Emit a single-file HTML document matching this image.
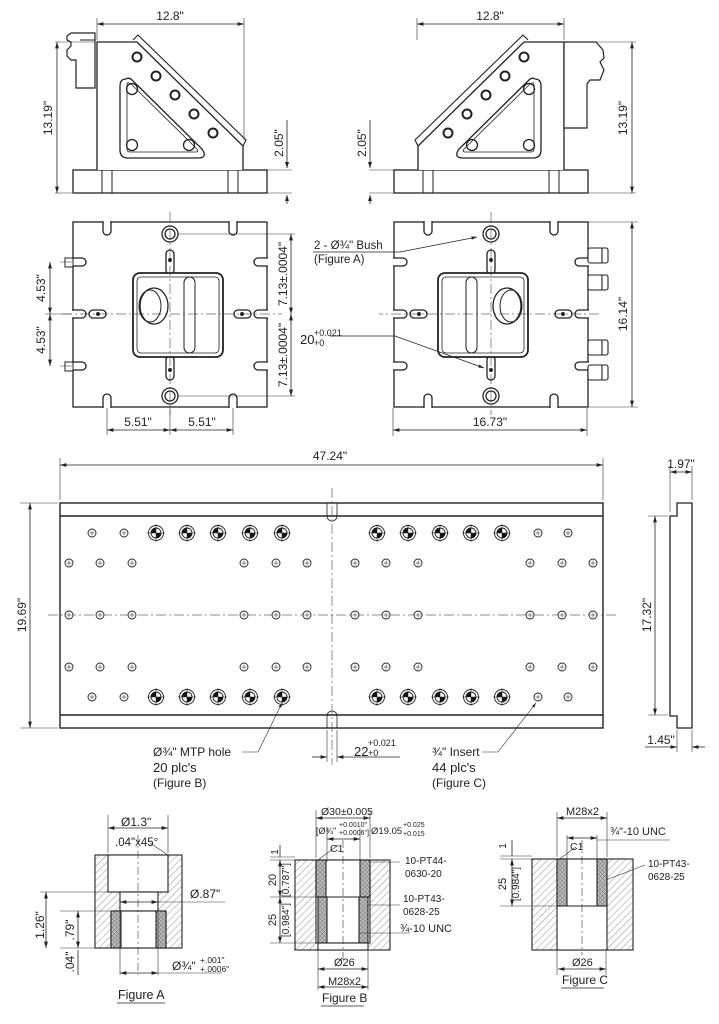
<!DOCTYPE html>
<html><head><meta charset="utf-8"><style>
html,body{margin:0;padding:0;background:#fff;}
svg{display:block;font-family:"Liberation Sans",sans-serif;}
</style></head><body>
<svg width="719" height="1024" viewBox="0 0 719 1024" xmlns="http://www.w3.org/2000/svg">
<defs>
<marker id="a" viewBox="0 0 10 6" refX="10" refY="3" markerWidth="8" markerHeight="5" orient="auto-start-reverse"><path d="M0,0 L10,3 L0,6z" fill="#222"/></marker>
<pattern id="h" width="5" height="5" patternUnits="userSpaceOnUse" patternTransform="rotate(45)"><line x1="0" y1="0" x2="0" y2="5" stroke="#666" stroke-width="0.7"/></pattern>
<pattern id="x" width="3" height="3" patternUnits="userSpaceOnUse" patternTransform="rotate(45)"><rect width="3" height="3" fill="#bbb"/><line x1="0" y1="0" x2="0" y2="3" stroke="#555" stroke-width="0.6"/><line x1="0" y1="0" x2="3" y2="0" stroke="#555" stroke-width="0.6"/></pattern>
<g id="sh"><circle r="4" fill="#fff" stroke="#222" stroke-width="0.9"/><path d="M-2.5,0H2.5M0,-2.5V2.5" stroke="#222" stroke-width="0.5"/></g>
<g id="mtp"><circle r="7.5" fill="#fff" stroke="#222" stroke-width="0.9"/><circle r="5" fill="#fff" stroke="#222" stroke-width="0.9"/><path d="M0,0 L5,0 A5,5 0 0 1 0,5z M0,0 L-5,0 A5,5 0 0 1 0,-5z" fill="#111"/><path d="M-9,0H9M0,-9V9" stroke="#222" stroke-width="0.5"/></g>
<g id="side" fill="none" stroke="#222" stroke-width="1.3">
<rect x="73" y="170" width="194" height="23" fill="#fff"/>
<path d="M102,170V193M112,170V193M228,170V193M238,170V193" stroke-width="1"/>
<path d="M97,170V42H137L243,146V170" fill="#fff"/>
<path d="M133,40L138,35L246,140L243,146" stroke-width="1.1"/>
<path d="M126,79 Q120,79 120,86 V150 Q120,158 128,158 H198 Q208,158 202,149 L132,80 Q129,77 126,79Z" stroke-width="1.3"/>
<path d="M127,85 V149 Q127,152 130,152 H196 Q199,152 197,149 L131,84 Q127,81 127,85Z" stroke-width="0.8"/>
<circle cx="132" cy="89" r="5.5"/><circle cx="132" cy="145" r="5.5"/><circle cx="189" cy="145" r="5.5"/>
<circle cx="137" cy="57" r="4.5" stroke-width="2"/><circle cx="156" cy="76" r="4.5" stroke-width="2"/><circle cx="175" cy="95" r="4.5" stroke-width="2"/><circle cx="194" cy="114" r="4.5" stroke-width="2"/><circle cx="213" cy="133" r="4.5" stroke-width="2"/>
</g>
<g id="plan" fill="none" stroke="#222" stroke-width="1.3">
<rect x="73" y="222" width="194" height="185" fill="#fff"/>
<g fill="#fff">
<path d="M103,221V231A4,4 0 0 0 111,231V221"/><path d="M229,221V231A4,4 0 0 0 237,231V221"/>
<path d="M103,408V398A4,4 0 0 1 111,398V408"/><path d="M229,408V398A4,4 0 0 1 237,398V408"/>
<path d="M72,258H82A4,4 0 0 1 82,266H72"/><path d="M72,310H82A4,4 0 0 1 82,318H72"/><path d="M72,362H82A4,4 0 0 1 82,370H72"/>
<path d="M268,258H258A4,4 0 0 0 258,266H268"/><path d="M268,310H258A4,4 0 0 0 258,318H268"/><path d="M268,362H258A4,4 0 0 0 258,370H268"/>
</g>
<g stroke="#fff" stroke-width="2"><path d="M104,222H110M230,222H236M104,407H110M230,407H236M73,259V265M73,311V317M73,363V369M267,259V265M267,311V317M267,363V369"/></g>
<rect x="166" y="250" width="8" height="24" rx="4" fill="#fff"/><rect x="166" y="356" width="8" height="24" rx="4" fill="#fff"/>
<rect x="89" y="310" width="17" height="8" rx="4" fill="#fff"/><rect x="234" y="310" width="17" height="8" rx="4" fill="#fff"/>
<circle cx="170" cy="260" r="1.3" fill="#222"/><circle cx="170" cy="370" r="1.3" fill="#222"/><circle cx="98" cy="314" r="1.3" fill="#222"/><circle cx="242" cy="314" r="1.3" fill="#222"/>
<rect x="133" y="273" width="90" height="84" rx="7" fill="#fff" stroke-width="1.8"/>
<rect x="137" y="277" width="82" height="76" rx="4" stroke-width="0.8"/>
<rect x="184" y="277" width="11" height="76" rx="5.5" stroke-width="1"/>
<ellipse cx="154" cy="306" rx="14" ry="18"/><ellipse cx="150" cy="306" rx="11" ry="16" stroke-width="1"/>
<circle cx="170" cy="234" r="8"/><circle cx="170" cy="234" r="5"/><circle cx="170" cy="396" r="8"/><circle cx="170" cy="396" r="5"/>
<path d="M170,212V415M62,314H282" stroke-width="0.5" stroke-dasharray="10,3,2,3"/>
</g>
</defs>

<use href="#side"/>
<path d="M76,33H95V88H76V60H71L67,56V50L71,46V42L67,40V36L71,33Z" fill="#fff" stroke="#222" stroke-width="1.2"/>
<path d="M80,40H95" stroke="#222" stroke-width="1"/>
<use href="#side" transform="translate(661,0) scale(-1,1)"/>
<path d="M564,42H596L603,50L604,58L600,62L604,70L600,80H590L587,84V128H564Z" fill="#fff" stroke="#222" stroke-width="1.2"/>

<g stroke="#333" stroke-width="0.6" fill="none">
<path d="M97,40V18M244,140V18M55,42H95M55,193H72M267,170H292M267,193H292"/>
<path d="M417,40V18M564,40V18M566,42H636M589,193H636M369,170H394M369,193H394"/>
</g>
<g stroke="#222" stroke-width="0.8" marker-start="url(#a)" marker-end="url(#a)">
<line x1="97" y1="24" x2="244" y2="24"/><line x1="57" y1="42" x2="57" y2="193"/>
<line x1="417" y1="24" x2="564" y2="24"/><line x1="632" y1="42" x2="632" y2="193"/>
</g>
<g stroke="#222" stroke-width="0.8"><path d="M287,120V168M287,195V204M370,120V168M370,195V204"/></g>
<path d="M287,168l-2,-6h4z M287,195l-2,6h4z M370,168l-2,-6h4z M370,195l-2,6h4z" fill="#222"/>
<g font-size="12" fill="#222" text-anchor="middle">
<text x="170" y="20">12.8"</text><text x="490" y="20">12.8"</text>
<text transform="translate(52,118) rotate(-90)">13.19"</text>
<text transform="translate(627,118) rotate(-90)">13.19"</text>
<text transform="translate(283,143) rotate(-90)">2.05"</text>
<text transform="translate(366,143) rotate(-90)">2.05"</text>
</g>

<use href="#plan"/>
<g fill="#fff" stroke="#222" stroke-width="1"><rect x="65" y="258" width="8" height="9"/><rect x="65" y="362" width="8" height="9"/></g>
<use href="#plan" transform="translate(661,0) scale(-1,1)"/>
<g fill="#fff" stroke="#222" stroke-width="1.1">
<rect x="588" y="248" width="20" height="15" rx="2"/><rect x="588" y="275" width="20" height="15" rx="2"/>
<rect x="588" y="340" width="20" height="15" rx="2"/><rect x="588" y="365" width="20" height="15" rx="2"/>
<path d="M602,248V263M602,275V290M602,340V355M602,365V380"/>
</g>
<g stroke="#333" stroke-width="0.6" fill="none">
<path d="M60,262H72M60,366H72M45,314H72M178,234H295M178,396H295M107,408V435M170,408V435M233,408V435"/>
<path d="M588,222H638M588,407H638M393,408V436M587,408V436"/>
</g>
<g stroke="#222" stroke-width="0.8" marker-start="url(#a)" marker-end="url(#a)">
<line x1="50" y1="262" x2="50" y2="314"/><line x1="50" y1="314" x2="50" y2="366"/>
<line x1="291" y1="234" x2="291" y2="314"/><line x1="291" y1="314" x2="291" y2="396"/>
<line x1="107" y1="430" x2="170" y2="430"/><line x1="170" y1="430" x2="233" y2="430"/>
<line x1="632" y1="222" x2="632" y2="407"/><line x1="393" y1="430" x2="587" y2="430"/>
</g>
<g stroke="#222" stroke-width="0.7" fill="none">
<path d="M313,252H400L477,237" marker-end="url(#a)"/>
<path d="M330,336H395L484,368" marker-end="url(#a)"/>
</g>
<g font-size="12" fill="#222" text-anchor="middle">
<text transform="translate(45,288) rotate(-90)">4.53"</text>
<text transform="translate(45,340) rotate(-90)">4.53"</text>
<text transform="translate(287,274) rotate(-90)">7.13±.0004"</text>
<text transform="translate(287,355) rotate(-90)">7.13±.0004"</text>
<text x="138" y="426">5.51"</text><text x="202" y="426">5.51"</text>
<text transform="translate(627,314) rotate(-90)">16.14"</text>
<text x="490" y="426">16.73"</text>
</g>
<g font-size="11.5" fill="#222">
<text x="314" y="249">2 - Ø¾" Bush</text><text x="314" y="263">(Figure A)</text>
<text x="300" y="344" font-size="13">20</text><text x="314" y="336" font-size="9">+0.021</text><text x="314" y="346" font-size="9">+0</text>
</g>

<g fill="none" stroke="#222">
<rect x="60" y="503" width="543" height="225" stroke-width="1.4" fill="#fff"/>
<path d="M60,516H603M60,715H603" stroke-width="1.4"/>
<path d="M327,503V516A5,5 0 0 0 337,516V503M327,728V716A5,5 0 0 1 337,716V728" stroke-width="0.8"/>
<path d="M332,488V765M48,615H618" stroke-width="0.5" stroke-dasharray="10,3,2,3"/>
<path d="M677,503H692V728H677V716H670V516H677Z" stroke-width="1.3" fill="#fff"/>
</g>
<g>
<use href="#sh" x="92" y="533"/><use href="#sh" x="124" y="533"/>
<use href="#mtp" x="156" y="533"/><use href="#mtp" x="187" y="533"/><use href="#mtp" x="218" y="533"/><use href="#mtp" x="250" y="533"/><use href="#mtp" x="282" y="533"/>
<use href="#mtp" x="377" y="533"/><use href="#mtp" x="408" y="533"/><use href="#mtp" x="440" y="533"/><use href="#mtp" x="471" y="533"/><use href="#mtp" x="502" y="533"/>
<use href="#sh" x="538" y="533"/><use href="#sh" x="568" y="533"/>
<use href="#sh" x="92" y="697"/><use href="#sh" x="124" y="697"/>
<use href="#mtp" x="156" y="697"/><use href="#mtp" x="187" y="697"/><use href="#mtp" x="218" y="697"/><use href="#mtp" x="250" y="697"/><use href="#mtp" x="282" y="697"/>
<use href="#mtp" x="377" y="697"/><use href="#mtp" x="408" y="697"/><use href="#mtp" x="440" y="697"/><use href="#mtp" x="471" y="697"/><use href="#mtp" x="502" y="697"/>
<use href="#sh" x="538" y="697"/><use href="#sh" x="568" y="697"/>
<use href="#sh" x="69" y="563"/><use href="#sh" x="100" y="563"/><use href="#sh" x="132" y="563"/><use href="#sh" x="244" y="563"/><use href="#sh" x="276" y="563"/><use href="#sh" x="307" y="563"/>
<use href="#sh" x="355" y="563"/><use href="#sh" x="386" y="563"/><use href="#sh" x="418" y="563"/><use href="#sh" x="530" y="563"/><use href="#sh" x="562" y="563"/><use href="#sh" x="593" y="563"/>
<use href="#sh" x="69" y="615"/><use href="#sh" x="100" y="615"/><use href="#sh" x="132" y="615"/><use href="#sh" x="244" y="615"/><use href="#sh" x="276" y="615"/><use href="#sh" x="307" y="615"/>
<use href="#sh" x="355" y="615"/><use href="#sh" x="386" y="615"/><use href="#sh" x="418" y="615"/><use href="#sh" x="530" y="615"/><use href="#sh" x="562" y="615"/><use href="#sh" x="593" y="615"/>
<use href="#sh" x="69" y="667"/><use href="#sh" x="100" y="667"/><use href="#sh" x="132" y="667"/><use href="#sh" x="244" y="667"/><use href="#sh" x="276" y="667"/><use href="#sh" x="307" y="667"/>
<use href="#sh" x="355" y="667"/><use href="#sh" x="386" y="667"/><use href="#sh" x="418" y="667"/><use href="#sh" x="530" y="667"/><use href="#sh" x="562" y="667"/><use href="#sh" x="593" y="667"/>
</g>
<g stroke="#333" stroke-width="0.6" fill="none">
<path d="M60,500V458M603,500V458M58,503H20M58,728H20M670,512V466M692,500V466M668,516H648M668,715H648M677,730V752M692,730V752M327,730V762M337,730V762"/>
</g>
<g stroke="#222" stroke-width="0.8" marker-start="url(#a)" marker-end="url(#a)">
<line x1="60" y1="465" x2="603" y2="465"/><line x1="30" y1="503" x2="30" y2="728"/>
<line x1="655" y1="516" x2="655" y2="715"/>
</g>
<g stroke="#222" stroke-width="0.8" fill="none">
<path d="M670,472H692" marker-start="url(#a)" marker-end="url(#a)"/>
<path d="M645,747H677" marker-end="url(#a)"/><path d="M705,747H692" marker-end="url(#a)"/>
<path d="M312,757H327" marker-end="url(#a)"/><path d="M400,757H337" marker-end="url(#a)"/>
<path d="M242,752H258L282,703" stroke-width="0.6" marker-end="url(#a)"/>
<path d="M482,752H498L536,703" stroke-width="0.6" marker-end="url(#a)"/>
</g>
<g font-size="12" fill="#222" text-anchor="middle">
<text x="330" y="460">47.24"</text>
<text transform="translate(26,615) rotate(-90)">19.69"</text>
<text transform="translate(651,615) rotate(-90)">17.32"</text>
<text x="681" y="468">1.97"</text><text x="661" y="744">1.45"</text>
</g>
<g fill="#222">
<text x="354" y="756" font-size="13">22</text><text x="368" y="746" font-size="9">+0.021</text><text x="368" y="756" font-size="9">+0</text>
<text x="153" y="756" font-size="12">Ø¾" MTP hole</text><text x="153" y="772" font-size="13">20 plc's</text><text x="153" y="787" font-size="12">(Figure B)</text>
<text x="432" y="756" font-size="12">¾" Insert</text><text x="432" y="772" font-size="13">44 plc's</text><text x="432" y="787" font-size="12">(Figure C)</text>
</g>

<g stroke="#222" stroke-width="1.1">
<rect x="95" y="855" width="87" height="93" fill="url(#h)"/>
<rect x="108" y="855" width="60" height="37" fill="#fff"/>
<rect x="120" y="892" width="38" height="19" fill="#fff"/>
<rect x="111" y="911" width="55" height="37" fill="#fff"/>
<rect x="111" y="911" width="10" height="37" fill="url(#x)"/><rect x="156" y="911" width="10" height="37" fill="url(#x)"/>
</g>
<g stroke="#333" stroke-width="0.6" fill="none">
<path d="M138,835V975" stroke-dasharray="8,3,2,3"/>
<path d="M108,853V815M168,853V815M120,912V975M158,912V975M40,892H108M60,911H110M60,948H95"/>
</g>
<g stroke="#222" stroke-width="0.8" marker-start="url(#a)" marker-end="url(#a)">
<line x1="108" y1="828" x2="168" y2="828"/><line x1="120" y1="902" x2="158" y2="902"/><line x1="120" y1="973" x2="158" y2="973"/>
<line x1="46" y1="892" x2="46" y2="948"/><line x1="78" y1="911" x2="78" y2="948"/>
</g>
<path d="M158,902H225M158,973H222M150,843L168,855" stroke="#333" stroke-width="0.6" fill="none"/>
<path d="M78,950V975" stroke="#222" stroke-width="0.8"/>
<g fill="#222">
<text x="121" y="826" font-size="12">Ø1.3"</text><text x="115" y="846" font-size="11.5">.04"x45°</text>
<text x="190" y="898" font-size="12">Ø.87"</text>
<text x="172" y="970" font-size="12">Ø¾"</text><text x="200" y="963" font-size="8.5">+.001"</text><text x="200" y="972" font-size="8.5">+.0006"</text>
<text transform="translate(44,925) rotate(-90)" font-size="12" text-anchor="middle">1.26"</text>
<text transform="translate(74,930) rotate(-90)" font-size="12" text-anchor="middle">.79"</text>
<text transform="translate(74,962) rotate(-90)" font-size="12" text-anchor="middle">.04"</text>
<text x="118" y="999" font-size="12.5">Figure A</text>
</g>
<path d="M117,1003H165" stroke="#222" stroke-width="0.8"/>

<g stroke="#222" stroke-width="1.1">
<rect x="295" y="860" width="95" height="90" fill="url(#h)"/>
<rect x="316" y="860" width="54" height="83" fill="#fff"/>
<rect x="316" y="860" width="10" height="37" fill="url(#x)"/><rect x="360" y="860" width="10" height="37" fill="url(#x)"/>
<rect x="318" y="897" width="9" height="46" fill="url(#x)"/><rect x="359" y="897" width="9" height="46" fill="url(#x)"/>
<rect x="318" y="943" width="50" height="7" fill="#fff"/>
<path d="M316,897H370" fill="none"/>
</g>
<g stroke="#333" stroke-width="0.6" fill="none">
<path d="M343,840V960" stroke-dasharray="8,3,2,3"/>
<path d="M316,858V810M370,858V810M327,862V828M360,862V828M318,945V990M368,945V990"/>
<path d="M270,860H295M270,857H295M270,897H316M270,943H318M370,862L400,862M368,905L400,905M360,933H410M338,845L318,860"/>
</g>
<g stroke="#222" stroke-width="0.8" marker-start="url(#a)" marker-end="url(#a)">
<line x1="316" y1="818" x2="370" y2="818"/><line x1="327" y1="839" x2="360" y2="839"/>
<line x1="318" y1="969" x2="368" y2="969"/><line x1="318" y1="987" x2="368" y2="987"/>
<line x1="280" y1="860" x2="280" y2="897"/><line x1="280" y1="897" x2="280" y2="943"/>
</g>
<path d="M280,845V857" stroke="#222" stroke-width="0.8"/>
<g fill="#222" font-size="10">
<text x="321" y="815" font-size="10.5">Ø30±0.005</text>
<text x="316" y="834" font-size="9">[Ø¾"</text><text x="339" y="827" font-size="7">+0.0010"</text><text x="339" y="835" font-size="7">+0.0006"]</text>
<text x="371" y="834" font-size="9.5">Ø19.05</text><text x="403" y="827" font-size="7">+0.025</text><text x="403" y="836" font-size="7">+0.015</text>
<text x="330" y="852" font-size="10.5">C1</text>
<text x="405" y="864">10-PT44-</text><text x="405" y="877">0630-20</text>
<text x="403" y="902">10-PT43-</text><text x="403" y="915">0628-25</text>
<text x="400" y="932" font-size="11">¾-10 UNC</text>
<text x="334" y="966" font-size="11">Ø26</text><text x="328" y="985" font-size="11">M28x2</text>
<text transform="translate(278,852) rotate(-90)" text-anchor="middle">1</text>
<text transform="translate(276,880) rotate(-90)" text-anchor="middle" font-size="11">20</text>
<text transform="translate(289,880) rotate(-90)" text-anchor="middle" font-size="10">[0.787"]</text>
<text transform="translate(276,920) rotate(-90)" text-anchor="middle" font-size="11">25</text>
<text transform="translate(289,920) rotate(-90)" text-anchor="middle" font-size="10">[0.984"]</text>
<text x="322" y="1002" font-size="12">Figure B</text>
</g>
<path d="M321,1006H364" stroke="#222" stroke-width="0.8"/>

<g stroke="#222" stroke-width="1.1">
<rect x="532" y="859" width="101" height="91" fill="url(#h)"/>
<rect x="557" y="859" width="50" height="91" fill="#fff"/>
<rect x="557" y="859" width="10" height="47" fill="url(#x)"/><rect x="597" y="859" width="10" height="47" fill="url(#x)"/>
<path d="M557,906H607" fill="none"/>
</g>
<g stroke="#333" stroke-width="0.6" fill="none">
<path d="M582,840V955" stroke-dasharray="8,3,2,3"/>
<path d="M557,857V812M607,857V812M567,860V835M597,860V835M557,950V975M606,950V975"/>
<path d="M500,859H532M500,856H532M500,906H557M597,840H670M576,847L558,860M606,880L645,865"/>
</g>
<g stroke="#222" stroke-width="0.8" marker-start="url(#a)" marker-end="url(#a)">
<line x1="557" y1="818" x2="607" y2="818"/><line x1="567" y1="838" x2="597" y2="838"/>
<line x1="558" y1="969" x2="606" y2="969"/><line x1="512" y1="859" x2="512" y2="906"/>
</g>
<path d="M512,840V856" stroke="#222" stroke-width="0.8"/>
<g fill="#222">
<text x="566" y="815" font-size="11">M28x2</text>
<text x="610" y="835" font-size="11">¾"-10 UNC</text>
<text x="570" y="850" font-size="10.5">C1</text>
<text x="648" y="867" font-size="10">10-PT43-</text><text x="648" y="880" font-size="10">0628-25</text>
<text x="572" y="966" font-size="11">Ø26</text>
<text transform="translate(506,846) rotate(-90)" text-anchor="middle" font-size="10">1</text>
<text transform="translate(506,884) rotate(-90)" text-anchor="middle" font-size="11">25</text>
<text transform="translate(519,884) rotate(-90)" text-anchor="middle" font-size="10">[0.984"]</text>
<text x="562" y="984" font-size="12">Figure C</text>
</g>
<path d="M561,988H604" stroke="#222" stroke-width="0.8"/>
</svg>
</body></html>
